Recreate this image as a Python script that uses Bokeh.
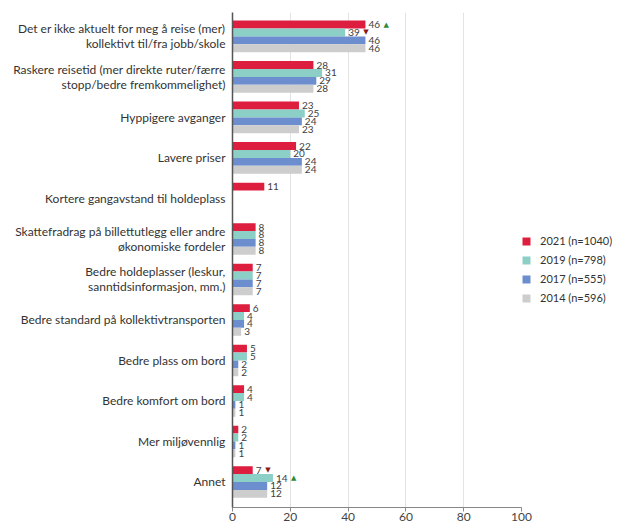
from bokeh.plotting import figure
from bokeh.models import ColumnDataSource, Range1d, FixedTicker, Legend, LegendItem
from bokeh.core.properties import value
from bokeh.embed import file_html
from bokeh.resources import INLINE

categories = [
    "Det er ikke aktuelt for meg å reise (mer)\nkollektivt til/fra jobb/skole",
    "Raskere reisetid (mer direkte ruter/færre\nstopp/bedre fremkommelighet)",
    "Hyppigere avganger",
    "Lavere priser",
    "Kortere gangavstand til holdeplass",
    "Skattefradrag på billettutlegg eller andre\nøkonomiske fordeler",
    "Bedre holdeplasser (leskur,\nsanntidsinformasjon, mm.)",
    "Bedre standard på kollektivtransporten",
    "Bedre plass om bord",
    "Bedre komfort om bord",
    "Mer miljøvennlig",
    "Annet",
]
series_names = ["2021 (n=1040)", "2019 (n=798)", "2017 (n=555)", "2014 (n=596)"]
v2021 = [46, 28, 23, 22, 11, 8, 7, 6, 5, 4, 2, 7]
v2019 = [39, 31, 25, 20, None, 8, 7, 4, 5, 4, 2, 14]
v2017 = [46, 29, 24, 24, None, 8, 7, 4, 2, 1, 1, 12]
v2014 = [46, 28, 23, 24, None, 8, 7, 3, 2, 1, 1, 12]
# significance arrows (▲ increase, ▼ decrease)
arrows2021 = ["▲", "", "", "", "", "", "", "", "", "", "", "▼"]
arrows2019 = ["▼", "", "", "", "", "", "", "", "", "", "", "▲"]
x_ticks = [0, 20, 40, 60, 80, 100]

colors = ["#DD1E3E", "#8CCFC7", "#6C8ECF", "#CDCDCD"]
arrow_colors = {"▲": "#2E8B3A", "▼": "#8B1A1A"}
FONT = "Lato"

n = len(categories)
h = 0.195
offsets = [-1.5 * h, -0.5 * h, 0.5 * h, 1.5 * h]

p = figure(frame_width=289, frame_height=495, output_backend="svg", toolbar_location=None,
           x_range=Range1d(0, 100), y_range=Range1d(n - 1 + 0.63, -0.59),
           min_border_left=232, min_border_right=0, min_border_top=12,
           min_border_bottom=0)
p.outline_line_color = None

renderers = []
all_vals = [v2021, v2019, v2017, v2014]
for si, vals in enumerate(all_vals):
    ys, xs = [], []
    for i, v in enumerate(vals):
        if v is None:
            continue
        ys.append(i + offsets[si])
        xs.append(v)
    src = ColumnDataSource(dict(y=ys, x=xs, lab=[str(v) for v in xs]))
    r = p.hbar(y="y", right="x", left=0, height=h, source=src,
               fill_color=colors[si], line_color=None)
    renderers.append(r)
    p.text(x="x", y="y", text="lab", source=src, x_offset=3,
           text_baseline="middle", text_align="left",
           text_font=value(FONT), text_font_size="10px", text_color="#404040")

for si, (vals, arrows) in enumerate([(v2021, arrows2021), (v2019, arrows2019)]):
    xs, ys, ts, cs, offs = [], [], [], [], []
    for i, a in enumerate(arrows):
        if not a:
            continue
        xs.append(vals[i])
        ys.append(i + offsets[si])
        ts.append(a)
        cs.append(arrow_colors[a])
        offs.append(3 + len(str(vals[i])) * 5.5 + 4)
    src = ColumnDataSource(dict(x=xs, y=ys, t=ts, c=cs, o=offs))
    p.text(x="x", y="y", text="t", source=src, x_offset="o",
           text_baseline="middle", text_align="left", text_color="c",
           text_font=value("DejaVu Sans"), text_font_size="7px")

# axes
p.yaxis.ticker = FixedTicker(ticks=list(range(n)))
p.yaxis.major_label_overrides = {i: c for i, c in enumerate(categories)}
p.yaxis.major_tick_out = 0
p.yaxis.major_tick_in = 0
p.yaxis.minor_tick_out = 0
p.yaxis.minor_tick_in = 0
p.yaxis.axis_line_color = "#555555"
p.yaxis.axis_line_width = 1.5
p.yaxis.major_label_standoff = 7
p.yaxis.major_label_text_font = FONT
p.yaxis.major_label_text_font_size = "12px"
p.yaxis.major_label_text_color = "#333333"
p.yaxis.major_label_text_line_height = 1.0

p.xaxis.ticker = FixedTicker(ticks=x_ticks)
p.xaxis.major_tick_out = 4
p.xaxis.major_tick_in = 0
p.xaxis.minor_tick_out = 0
p.xaxis.axis_line_color = "#888888"
p.xaxis.major_tick_line_color = "#888888"
p.xaxis.major_label_standoff = 1
p.xaxis.major_label_text_font = FONT
p.xaxis.major_label_text_font_size = "12px"
p.xaxis.major_label_text_color = "#444444"

p.ygrid.grid_line_color = None
p.xgrid.grid_line_color = "#E3E3E3"
p.xgrid.ticker = FixedTicker(ticks=x_ticks)

legend = Legend(items=[LegendItem(label=series_names[i], renderers=[renderers[i]])
                       for i in range(4)],
                location=(0, 203), orientation="vertical",
                glyph_width=10, glyph_height=10, label_height=10,
                spacing=6, padding=3, margin=0, label_standoff=9,
                label_text_font=FONT, label_text_font_size="11px",
                label_text_color="#333333", border_line_color=None,
                background_fill_alpha=0)
p.add_layout(legend, "right")

open("out.html", "w").write(file_html(p, INLINE))
